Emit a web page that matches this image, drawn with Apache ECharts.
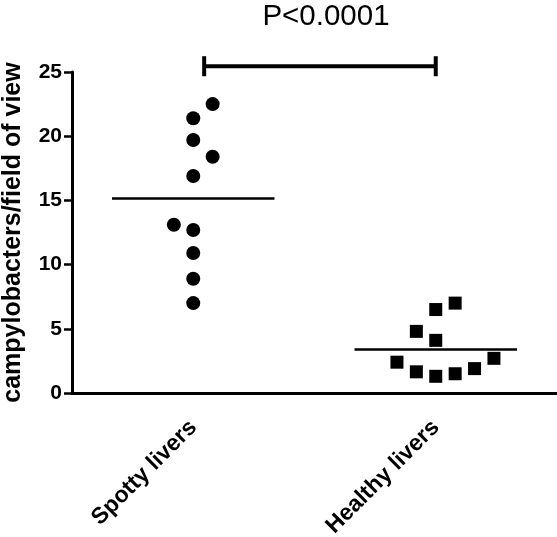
<!DOCTYPE html>
<html>
<head>
<meta charset="utf-8">
<script src="https://cdn.jsdelivr.net/npm/echarts@6/dist/echarts.min.js"></script>
<style>html,body{margin:0;padding:0;background:#fff;}#c{width:557px;height:537px;}</style>
</head>
<body>
<div id="c"></div>
<script>
var categories = ['Spotty livers', 'Healthy livers'];
var spottyValues = [22.5, 21.4, 19.7, 18.4, 16.9, 13.1, 12.7, 10.9, 8.9, 7.0];
var spottyJitter = [1, 0, 0, 1, 0, -1, 0, 0, 0, 0];
var healthyValues = [7.0, 6.5, 4.8, 4.1, 2.7, 2.4, 1.9, 1.65, 1.5, 1.3];
var healthyJitter = [1, 0, -1, 0, 3, -2, 2, -1, 1, 0];
var yTicks = [0, 5, 10, 15, 20, 25];
var pLabel = 'P<0.0001';
var bracketLevel = 25.45;

var FONT = '"Liberation Sans", Arial, sans-serif';
var INK = '#000';
var JSTEP = 0.08;
var HALF = 0.335;

function mean(a){ var s = 0; for (var i = 0; i < a.length; i++) s += a[i]; return s / a.length; }
function pts(idx, vals, jit){ return vals.map(function(v, i){ return [idx + jit[i] * JSTEP, v]; }); }

var chart = echarts.init(document.getElementById('c'));
chart.setOption({
  animation: false,
  backgroundColor: '#fff',
  title: {
    text: pLabel, left: 321, top: -3, textAlign: 'center',
    textStyle: { fontFamily: FONT, fontSize: 29.5, fontWeight: 'normal', color: INK }
  },
  grid: { left: 72, right: 0, top: 72, bottom: 144, containLabel: false, outerBoundsMode: 'none' },
  xAxis: [
    { type: 'value', min: -0.5, max: 1.5, show: false },
    {
      type: 'category', data: categories, position: 'bottom',
      axisLine: { lineStyle: { color: INK, width: 3 } },
      axisTick: { alignWithLabel: true, length: 10, lineStyle: { color: INK, width: 3 } },
      axisLabel: { rotate: 45, margin: 31, fontFamily: FONT, fontSize: 23, fontWeight: 'bold', color: INK },
      splitLine: { show: false }
    }
  ],
  yAxis: {
    type: 'value', min: 0, max: 25, interval: 5,
    name: 'campylobacters/field of view', nameLocation: 'middle', nameGap: 46,
    nameTextStyle: { fontFamily: FONT, fontSize: 25, fontWeight: 'bold', color: INK },
    axisLine: { show: true, onZero: false, lineStyle: { color: INK, width: 3 } },
    axisTick: { show: true, length: 8, lineStyle: { color: INK, width: 2.5 } },
    axisLabel: {
      margin: 10, fontFamily: FONT, fontSize: 21, fontWeight: 'bold', color: INK,
      formatter: function(v){ return yTicks.indexOf(v) >= 0 ? String(v) : ''; }
    },
    splitLine: { show: false }
  },
  series: [
    {
      type: 'scatter', xAxisIndex: 0, symbol: 'circle', symbolSize: 14,
      itemStyle: { color: INK, opacity: 1 }, data: pts(0, spottyValues, spottyJitter)
    },
    {
      type: 'scatter', xAxisIndex: 0, symbol: 'rect', symbolSize: 13,
      itemStyle: { color: INK, opacity: 1 }, data: pts(1, healthyValues, healthyJitter)
    },
    {
      type: 'custom', xAxisIndex: 0,
      data: [[0, mean(spottyValues)], [1, mean(healthyValues)]],
      renderItem: function(params, api){
        var a = api.coord([api.value(0) - HALF, api.value(1)]);
        var b = api.coord([api.value(0) + HALF, api.value(1)]);
        return { type: 'line', shape: { x1: a[0], y1: a[1], x2: b[0], y2: b[1] }, style: { stroke: INK, lineWidth: 2.5 } };
      }
    },
    {
      type: 'custom', xAxisIndex: 0, clip: false,
      data: [[0 + 0.045, 1, bracketLevel]],
      renderItem: function(params, api){
        var a = api.coord([api.value(0), api.value(2)]);
        var b = api.coord([api.value(1), api.value(2)]);
        var h = 10;
        return { type: 'group', children: [
          { type: 'line', shape: { x1: a[0], y1: a[1], x2: b[0], y2: b[1] }, style: { stroke: INK, lineWidth: 4 } },
          { type: 'line', shape: { x1: a[0], y1: a[1] - h, x2: a[0], y2: a[1] + h }, style: { stroke: INK, lineWidth: 4 } },
          { type: 'line', shape: { x1: b[0], y1: b[1] - h, x2: b[0], y2: b[1] + h }, style: { stroke: INK, lineWidth: 4 } }
        ]};
      }
    }
  ]
});
</script>
</body>
</html>
